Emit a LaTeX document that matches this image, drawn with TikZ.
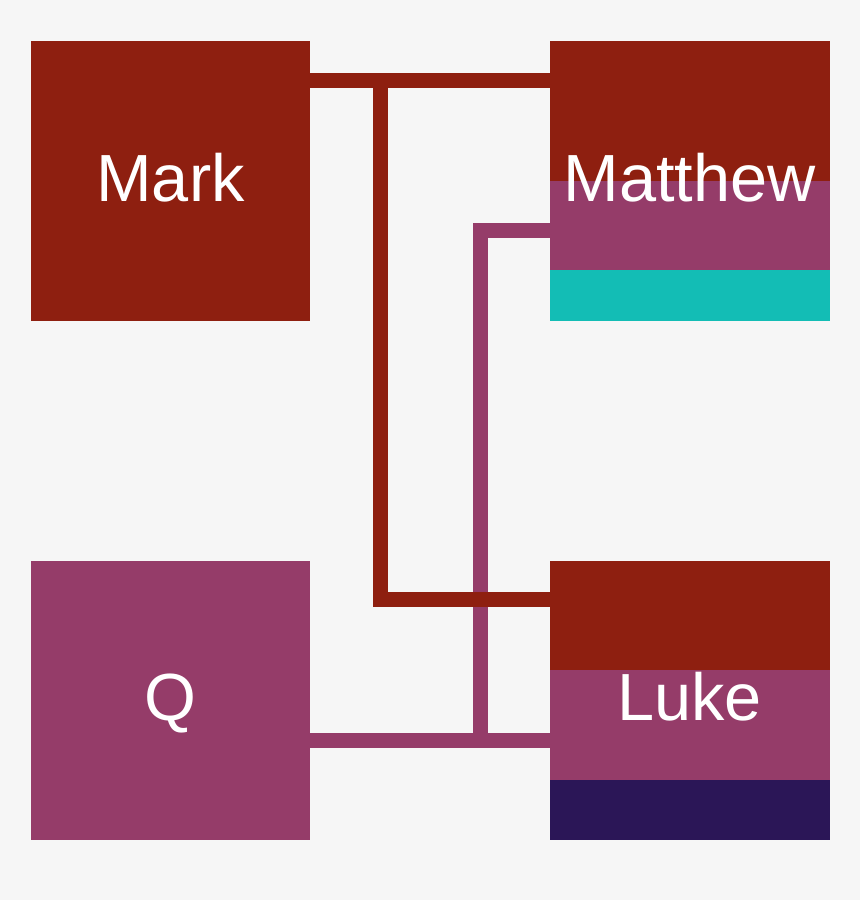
\documentclass[tikz,border=0pt]{standalone}
\usepackage{fontspec}
\setmainfont{Liberation Sans}
\usepackage{tikz}
\usepackage{xcolor}

\definecolor{pagebg}{HTML}{F6F6F6}
\definecolor{markred}{HTML}{8E1F10}
\definecolor{qpurple}{HTML}{953C69}
\definecolor{matteal}{HTML}{13BDB5}
\definecolor{lknavy}{HTML}{2B1657}

\tikzset{
  gospel/.style={rectangle, inner sep=0pt, minimum width=279.5pt, minimum height=279.5pt,
    text=white, font=\fontsize{66.7}{80}\selectfont, text height=48pt, text depth=7pt},
  mkline/.style={draw=markred, line width=15pt},
  qline/.style={draw=qpurple, line width=15pt}
}

\begin{document}
\begin{tikzpicture}[x=1pt, y=-1pt]
\fill[pagebg] (0,0) rectangle (860,900);

\fill[markred] (550,41) rectangle (829.5,180.5);
\fill[qpurple] (550,180.5) rectangle (829.5,270);
\fill[matteal] (550,270) rectangle (829.5,320.5);
\fill[markred] (550,560.5) rectangle (829.5,670);
\fill[qpurple] (550,670) rectangle (829.5,780);
\fill[lknavy] (550,780) rectangle (829.5,840);

\node[gospel, fill=markred] (Mark) at (170.5,180.75) {Mark};
\node[gospel] (Matthew) at (689.75,180.75) {Matthew};
\node[gospel, fill=qpurple] (Q) at (170.5,700.25) {Q};
\node[gospel] (Luke) at (689.75,700.25) {Luke};

\coordinate (qturn) at (480.5,230.5);
\coordinate (qjoin) at (480.5,740);
\draw[qline] (Matthew.west |- qturn) -- (qturn) -- (qjoin);
\draw[qline] (Q.east |- qjoin) -- (Luke.west |- qjoin);

\coordinate (mkturn) at (380.5,80.5);
\coordinate (mkdown) at (380.5,599.5);
\draw[mkline] (Mark.east |- mkturn) -- (Matthew.west |- mkturn);
\draw[mkline] (mkturn) -- (mkdown) -- (Luke.west |- mkdown);
\end{tikzpicture}
\end{document}
